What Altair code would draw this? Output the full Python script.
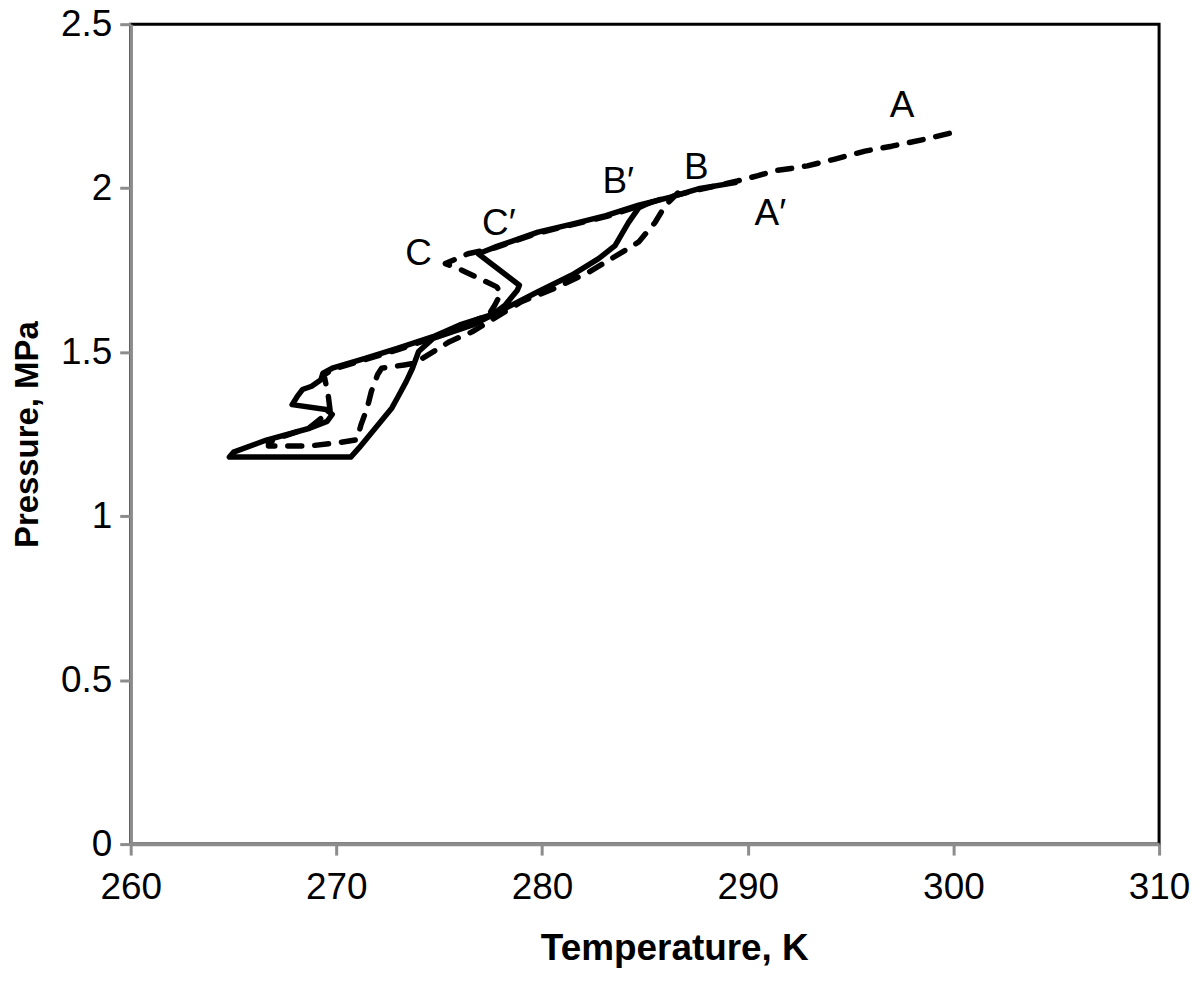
import altair as alt
import pandas as pd

# solid curve: cooling from B along the upper line, exotherm at C', then heating back up
solid_t = [289.4, 287.6, 286.2, 284.7, 283.1, 281.5, 279.8, 278.9, 277.7, 276.9,
           277.9, 278.9, 278.8, 278.2, 277.6, 276.0, 274.7, 273.0, 271.4, 269.8,
           269.35, 269.25, 268.8, 268.35, 268.1, 267.85, 269.5, 269.8, 269.55, 268.7,
           266.6, 265.0, 264.8, 270.7, 271.1, 271.9, 272.7, 273.05, 273.4, 273.7,
           274.0, 274.7, 276.6, 278.2, 279.8, 281.45, 282.75, 283.55, 284.2, 284.7,
           285.3]
solid_p = [2.017, 1.998, 1.972, 1.948, 1.916, 1.891, 1.866, 1.846, 1.820, 1.800,
           1.752, 1.704, 1.689, 1.643, 1.615, 1.583, 1.547, 1.512, 1.481, 1.451,
           1.436, 1.416, 1.396, 1.386, 1.365, 1.340, 1.325, 1.310, 1.289, 1.268,
           1.232, 1.195, 1.180, 1.180, 1.208, 1.269, 1.330, 1.370, 1.411, 1.451,
           1.502, 1.542, 1.582, 1.633, 1.684, 1.735, 1.785, 1.825, 1.895, 1.940,
           1.958]

# dashed curve: cooling from A, exotherm at C, then heating back up
dashed_t = [299.8, 298.6, 297.0, 295.7, 294.2, 292.9, 292.1, 291.3, 290.5, 289.5,
            287.6, 286.0, 284.7, 283.1, 281.5, 279.8, 277.7, 276.4, 275.3, 276.1,
            276.8, 277.8, 278.0, 277.7, 277.4, 276.0, 274.7, 273.0, 271.4, 269.8,
            269.4, 269.6, 269.7, 268.7, 267.5, 266.7, 266.7, 268.7, 270.2, 271.0,
            271.2, 271.5, 271.7, 272.0, 272.2, 273.3, 273.8, 275.5, 276.6, 279.0,
            280.6, 282.3, 283.9, 284.7, 285.5, 286.0, 286.6]
dashed_p = [2.167, 2.149, 2.128, 2.113, 2.088, 2.068, 2.060, 2.053, 2.038, 2.022,
            1.995, 1.970, 1.945, 1.913, 1.889, 1.863, 1.818, 1.800, 1.770, 1.750,
            1.729, 1.699, 1.679, 1.643, 1.613, 1.578, 1.543, 1.508, 1.477, 1.447,
            1.430, 1.370, 1.320, 1.270, 1.245, 1.225, 1.214, 1.214, 1.225, 1.233,
            1.279, 1.330, 1.380, 1.431, 1.451, 1.461, 1.466, 1.532, 1.562, 1.654,
            1.694, 1.745, 1.805, 1.836, 1.896, 1.948, 1.985]

label_text = ["A", "A\u2032", "B", "B\u2032", "C", "C\u2032"]
label_t = [297.5, 291.1, 287.5, 283.7, 274.0, 277.9]
label_p = [2.25, 1.92, 2.06, 2.02, 1.80, 1.89]

FONT = "Liberation Sans"

solid = pd.DataFrame({"T": solid_t, "P": solid_p, "i": range(len(solid_t))})
dashed = pd.DataFrame({"T": dashed_t, "P": dashed_p, "i": range(len(dashed_t))})
labels = pd.DataFrame({"T": label_t, "P": label_p, "text": label_text})

x_scale = alt.Scale(domain=[260, 310], nice=False, zero=False)
y_scale = alt.Scale(domain=[0, 2.5], nice=False)

x_axis = alt.Axis(
    title="Temperature, K", values=[260, 270, 280, 290, 300, 310], grid=False,
    domainColor="#8c8c8c", domainWidth=3.5, tickColor="#8c8c8c", tickWidth=3,
    tickSize=11, labelFontSize=37, labelFont=FONT, labelColor="black",
    labelPadding=15, labelFlush=False,
    titleFont=FONT, titleFontSize=37, titleFontWeight="bold", titleColor="black",
    titleX=545, titleY=116, titleBaseline="alphabetic", titleAlign="center",
)
y_axis = alt.Axis(
    title="Pressure,  MPa", values=[0, 0.5, 1, 1.5, 2, 2.5], format=".1~f", grid=False,
    domainColor="#8c8c8c", domainWidth=3.5, tickColor="#8c8c8c", tickWidth=3,
    tickSize=11, labelFontSize=37, labelFont=FONT, labelColor="black",
    labelPadding=8, labelFlush=False,
    titleFont=FONT, titleFontSize=33, titleFontWeight="bold", titleColor="black",
    titleX=-93, titleY=411, titleBaseline="alphabetic", titleAlign="center", titleAngle=-90,
)

solid_line = alt.Chart(solid).mark_line(
    color="black", strokeWidth=5.5, strokeJoin="round", strokeCap="round"
).encode(
    x=alt.X("T:Q", scale=x_scale, axis=x_axis),
    y=alt.Y("P:Q", scale=y_scale, axis=y_axis),
    order="i:Q",
)

dashed_line = alt.Chart(dashed).mark_line(
    color="black", strokeWidth=5.5, strokeDash=[14, 13], strokeCap="round", strokeJoin="round"
).encode(
    x=alt.X("T:Q", scale=x_scale),
    y=alt.Y("P:Q", scale=y_scale),
    order="i:Q",
)

text = alt.Chart(labels).mark_text(
    font=FONT, fontSize=37, color="black", align="center", baseline="middle"
).encode(
    x=alt.X("T:Q", scale=x_scale),
    y=alt.Y("P:Q", scale=y_scale),
    text="text:N",
)

chart = alt.layer(solid_line, dashed_line, text).properties(
    width=1031, height=822,
    autosize=alt.AutoSizeParams(type="none"),
    padding={"left": 123, "top": 15, "right": 33, "bottom": 124},
).configure_view(
    stroke="black", strokeWidth=3
)

chart.save("out.html", embed_options={"renderer": "svg", "actions": False})
